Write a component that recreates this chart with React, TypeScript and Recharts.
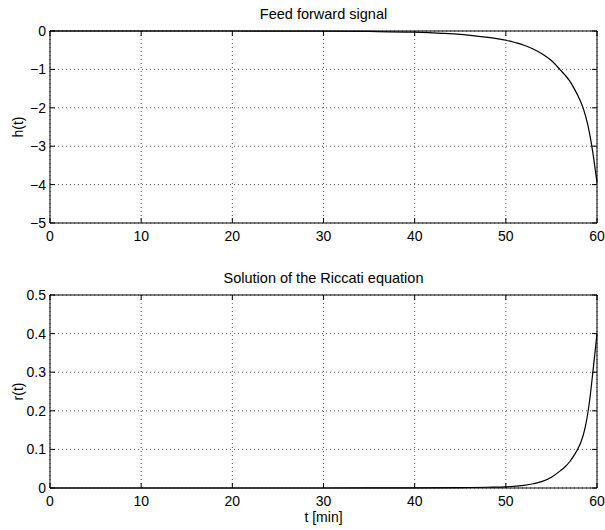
import React from 'react';
import { LineChart, Line, XAxis, YAxis, CartesianGrid, ReferenceLine } from 'recharts';

// time points (min) and feed forward signal h(t)
const hTimes = [0, 10, 20, 30, 35, 40, 43, 45, 47, 49, 50, 51, 52, 53, 54, 55, 56, 56.5, 57, 57.5, 58, 58.5, 59, 59.4, 59.7, 60];
const hValues = [0, 0, 0, -0.005, -0.012, -0.03, -0.06, -0.09, -0.14, -0.2, -0.24, -0.3, -0.37, -0.47, -0.6, -0.77, -1.02, -1.15, -1.3, -1.5, -1.73, -2.02, -2.45, -2.95, -3.42, -3.95];

// time points (min) and Riccati solution r(t)
const rTimes = [0, 10, 20, 30, 40, 45, 48, 50, 52, 53, 54, 55, 56, 56.5, 57, 57.5, 58, 58.25, 58.5, 58.75, 59, 59.25, 59.5, 59.75, 60];
const rValues = [0, 0, 0, 0, 0.0003, 0.001, 0.002, 0.003, 0.007, 0.011, 0.017, 0.028, 0.045, 0.055, 0.068, 0.085, 0.106, 0.12, 0.138, 0.162, 0.195, 0.238, 0.29, 0.345, 0.4];

const timeTicks = [0, 10, 20, 30, 40, 50, 60];
const hTicks = [-5, -4, -3, -2, -1, 0];
const rTicks = [0, 0.1, 0.2, 0.3, 0.4, 0.5];

const hRows = hTimes.map((t, i) => ({ t, h: hValues[i] }));
const rRows = rTimes.map((t, i) => ({ t, r: rValues[i] }));

const FONT = '"Liberation Sans", Arial, Helvetica, sans-serif';
const TICK = 5;
const Y_AXIS_W = 50;
const MARGIN_R = 8;
const CHART_W = 605;
const PLOT_W = CHART_W - Y_AXIS_W - MARGIN_R;

const fmtH = (v: number) => String(v).replace('-', '\u2212');
const fmtR = (v: number) => (v === 0 ? '0' : v.toFixed(1));

// matlab style inward ticks, drawn on both opposite sides of the box
// (tickSize/tickMargin are 0 so x,y sit on the axis line)
const bottomTick = (plotH: number) => (props: any) => {
  const { x, y, payload } = props;
  return (
    <g>
      <line x1={x} y1={y} x2={x} y2={y - TICK} stroke="#000" />
      <line x1={x} y1={y - plotH} x2={x} y2={y - plotH + TICK} stroke="#000" />
      <text x={x} y={y + 18} textAnchor="middle" fill="#000" fontSize={14} fontFamily={FONT}>
        {payload.value}
      </text>
    </g>
  );
};
const leftTick = (fmt: (v: number) => string) => (props: any) => {
  const { x, y, payload } = props;
  return (
    <g>
      <line x1={x} y1={y} x2={x + TICK} y2={y} stroke="#000" />
      <line x1={x + PLOT_W} y1={y} x2={x + PLOT_W - TICK} y2={y} stroke="#000" />
      <text x={x - 4} y={y + 5} textAnchor="end" fill="#000" fontSize={14} fontFamily={FONT}>
        {fmt(payload.value)}
      </text>
    </g>
  );
};

// rotated y label, centred on the axis
const yLabel = (text: string) => (props: any) => {
  const { x, y, height } = props.viewBox;
  return (
    <text
      transform={`translate(${x + 23},${y + height / 2}) rotate(-90)`}
      textAnchor="middle"
      fill="#000"
      fontSize={14}
      fontFamily={FONT}
    >
      {text}
    </text>
  );
};

const xLabel = (text: string) => (props: any) => {
  const { x, y, width } = props.viewBox;
  return (
    <text x={x + width / 2} y={y + 34} textAnchor="middle" fill="#000" fontSize={14} fontFamily={FONT}>
      {text}
    </text>
  );
};

const Title: React.FC<{ top: number; text: string }> = ({ top, text }) => (
  <div
    style={{
      position: 'absolute',
      left: Y_AXIS_W,
      width: PLOT_W,
      top,
      textAlign: 'center',
      fontFamily: FONT,
      fontSize: '14.5px',
      lineHeight: '14.5px',
      color: '#000',
    }}
  >
    {text}
  </div>
);

const renderAxes = (
  plotH: number,
  xH: number,
  yDomain: number[],
  yTicks: number[],
  fmt: (v: number) => string,
  yText: string,
  xText?: string
) => [
  <XAxis
    key="xb"
    dataKey="t"
    type="number"
    domain={[0, 60]}
    ticks={timeTicks}
    interval={0}
    height={xH}
    axisLine={{ stroke: '#000' }}
    tickLine={false}
    tickSize={0}
    tickMargin={0}
    tick={bottomTick(plotH)}
    label={xText ? xLabel(xText) : undefined}
  />,
  <YAxis
    key="yl"
    type="number"
    domain={yDomain}
    ticks={yTicks}
    interval={0}
    width={Y_AXIS_W}
    axisLine={{ stroke: '#000' }}
    tickLine={false}
    tickSize={0}
    tickMargin={0}
    tick={leftTick(fmt)}
    label={yLabel(yText)}
  />,
  // top and right edges of the box
  <ReferenceLine key="top" y={yDomain[1]} stroke="#000" />,
  <ReferenceLine key="right" x={60} stroke="#000" />,
];

export default function App() {
  return (
    <div style={{ position: 'absolute', left: 0, top: 0, width: 605, height: 530, background: '#fff', fontFamily: FONT }}>
      <Title top={7} text="Feed forward signal" />
      <div style={{ position: 'absolute', left: 0, top: 0 }}>
        <LineChart width={CHART_W} height={250} data={hRows} margin={{ top: 31, right: MARGIN_R, left: 0, bottom: 0 }}>
          <CartesianGrid stroke="#555" strokeDasharray="1 3" />
          {renderAxes(192, 27, [-5, 0], hTicks, fmtH, 'h(t)')}
          <Line type="monotone" dataKey="h" stroke="#000" strokeWidth={1.2} dot={false} isAnimationActive={false} />
        </LineChart>
      </div>

      <Title top={271} text="Solution of the Riccati equation" />
      <div style={{ position: 'absolute', left: 0, top: 265 }}>
        <LineChart width={CHART_W} height={265} data={rRows} margin={{ top: 30, right: MARGIN_R, left: 0, bottom: 0 }}>
          <CartesianGrid stroke="#555" strokeDasharray="1 3" />
          {renderAxes(193, 42, [0, 0.5], rTicks, fmtR, 'r(t)', 't [min]')}
          <Line type="monotone" dataKey="r" stroke="#000" strokeWidth={1.2} dot={false} isAnimationActive={false} />
        </LineChart>
      </div>
    </div>
  );
}
